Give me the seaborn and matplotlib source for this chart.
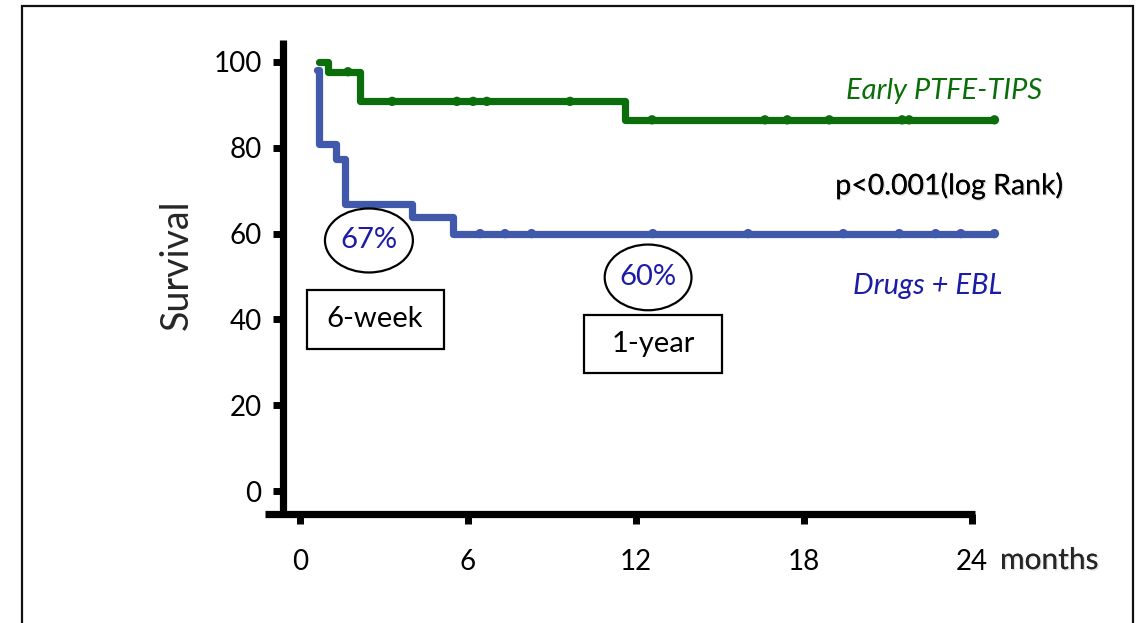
import numpy as np
import pandas as pd
import matplotlib
matplotlib.use("Agg")
import matplotlib.pyplot as plt
import matplotlib.patheffects as pe
from matplotlib.patches import Ellipse, Rectangle
import seaborn as sns

# Kaplan-Meier steps (months, survival %)
tips_time = [0.68, 1.0, 2.14, 11.6, 24.8]
tips_surv = [100.0, 97.7, 90.8, 86.5, 86.5]
tips_censor = [1.71, 3.29, 5.6, 6.18, 6.67, 9.64,
               12.57, 16.6, 17.4, 18.9, 21.5, 21.75, 24.8]

ebl_time = [0.62, 0.66, 1.3, 1.6, 4.0, 5.45, 24.8]
ebl_surv = [98.0, 80.8, 77.4, 67.0, 63.8, 60.0, 60.0]
ebl_censor = [6.43, 7.32, 8.27, 12.6, 16.0, 19.4, 21.4, 22.7, 23.6, 24.8]

x_ticks = [0, 6, 12, 18, 24]
y_ticks = [0, 20, 40, 60, 80, 100]

GREEN = "#0b6e0b"
BLUE = "#4159ab"
DARK_BLUE = "#1c1ca6"


def step_value(times, surv, t):
    idx = np.searchsorted(times, t, side="right") - 1
    return np.asarray(surv)[np.clip(idx, 0, len(surv) - 1)]


sns.set_style("white")
plt.rcParams["font.family"] = ["Lato", "DejaVu Sans"]

fig = plt.figure(figsize=(11.38, 6.23), dpi=100)
ax = fig.add_axes([0.2329, 0.17496, 0.6582, 0.7616])

curves = pd.DataFrame({
    "time": tips_time + ebl_time,
    "surv": tips_surv + ebl_surv,
    "arm": ["Early PTFE-TIPS"] * len(tips_time) + ["Drugs + EBL"] * len(ebl_time),
})
censors = pd.DataFrame({
    "time": tips_censor + ebl_censor,
    "surv": list(step_value(tips_time, tips_surv, tips_censor))
            + list(step_value(ebl_time, ebl_surv, ebl_censor)),
    "arm": ["Early PTFE-TIPS"] * len(tips_censor) + ["Drugs + EBL"] * len(ebl_censor),
})
pal = {"Early PTFE-TIPS": GREEN, "Drugs + EBL": BLUE}

sns.lineplot(data=curves, x="time", y="surv", hue="arm", palette=pal,
             estimator=None, sort=False, drawstyle="steps-post",
             linewidth=5.2, legend=False, ax=ax, zorder=3)
sns.scatterplot(data=censors, x="time", y="surv", hue="arm", palette=pal,
                s=45, marker="o", edgecolor="none", legend=False, ax=ax, zorder=4)

ax.set_xlim(-1.25, 25.5)
ax.set_ylim(-5.3, 105.2)
for side in ["top", "right"]:
    ax.spines[side].set_visible(False)
ax.spines["left"].set_position(("data", -0.6))
ax.spines["left"].set_bounds(-5.3, 105.2)
ax.spines["bottom"].set_bounds(-1.25, 24.1)
for side in ["left", "bottom"]:
    ax.spines[side].set_linewidth(5.2)
    ax.spines[side].set_color("black")
    ax.spines[side].set_capstyle("butt")

ax.set_xticks(x_ticks)
ax.set_yticks(y_ticks)
ax.tick_params(axis="both", direction="out", length=7.5, width=5, color="black",
               bottom=True, left=True, labelsize=20, labelcolor="black")
ax.tick_params(axis="x", pad=17.5)
ax.tick_params(axis="y", pad=8)
ax.set_xlabel("")
ax.set_ylabel("Survival", fontsize=27)
ax.yaxis.set_label_coords(-0.0935, 0.525)

shadow = [pe.withSimplePatchShadow(offset=(1, -1), shadow_rgbFace="#aaaaaa", alpha=0.4),
          pe.Normal()]

ax.text(23.0, 93.3, "Early PTFE-TIPS", color=GREEN, fontsize=21, style="italic",
        ha="center", va="center")
ax.text(23.2, 71.2, "p<0.001(log Rank)", color="black", fontsize=20.5,
        ha="center", va="center", path_effects=shadow)
ax.text(22.4, 47.9, "Drugs + EBL", color=DARK_BLUE, fontsize=21, style="italic",
        ha="center", va="center")

for (cx, cy, w, h, label) in [(2.46, 58.4, 3.14, 14.9, "67%"), (12.43, 49.8, 3.1, 15.3, "60%")]:
    ax.add_patch(Ellipse((cx, cy), w, h, facecolor="white", edgecolor="black",
                         linewidth=1.6, zorder=5))
    ax.text(cx, cy, label, color=DARK_BLUE, fontsize=21, ha="center", va="center", zorder=6)

for (cx, cy, w, h, label) in [(2.68, 40.0, 4.89, 13.7, "6-week"), (12.6, 34.2, 4.93, 13.5, "1-year")]:
    ax.add_patch(Rectangle((cx - w / 2, cy - h / 2), w, h, facecolor="white",
                           edgecolor="black", linewidth=1.6, zorder=5))
    ax.text(cx, cy, label, color="black", fontsize=21, ha="center", va="center", zorder=6)

fig.text(1000 / 1138, 1 - 560 / 623, "months", fontsize=21.5, ha="left", va="center",
         path_effects=shadow)

# outer frame of the slide
fig.patches.append(Rectangle((22 / 1138, -0.02), (1133 - 22) / 1138, 1.02 - 6 / 623,
                             transform=fig.transFigure, fill=False,
                             edgecolor="#111111", linewidth=1.6))

fig.savefig("out.png", dpi=100)
